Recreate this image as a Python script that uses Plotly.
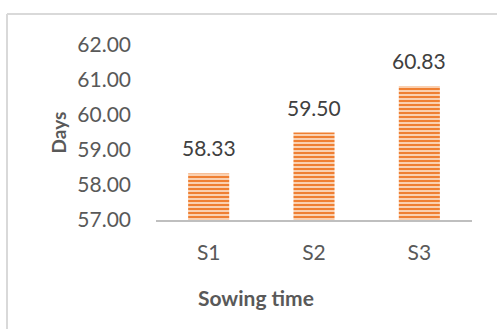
import plotly.graph_objects as go

# Days to flowering by sowing time
categories = ["S1", "S2", "S3"]
days = [58.33, 59.50, 60.83]
y_ticks = [57, 58, 59, 60, 61, 62]

W, H = 497, 329
L, R, T, B = 156, 25, 45, 109
plot_w = W - L - R
plot_h = H - T - B
FONT = "Lato, Open Sans, sans-serif"

fig = go.Figure(
    go.Bar(
        x=categories,
        y=days,
        width=0.39,
        marker=dict(
            color="#EF7F32",
            line=dict(width=0),
            pattern=dict(shape="-", size=4, solidity=0.5,
                         fgcolor="#FAD0B0", bgcolor="#EF7F32", fillmode="replace"),
        ),
        hoverinfo="skip",
    )
)

# Value labels above each bar
for cat, v in zip(categories, days):
    fig.add_annotation(
        x=cat, y=v, text=f"{v:.2f}", showarrow=False,
        yanchor="bottom", yshift=11,
        font=dict(family=FONT, size=21, color="#404040"),
    )

# X axis title, sitting left of the plot centre
fig.add_annotation(
    xref="paper", yref="paper", x=(256 - L) / plot_w, y=(220 - 297) / plot_h,
    text="<b>Sowing time</b>", showarrow=False, xanchor="center", yanchor="middle",
    font=dict(family=FONT, size=21, color="#595959"),
)

fig.update_layout(
    width=W, height=H,
    margin=dict(l=L, r=R, t=T, b=B),
    paper_bgcolor="white",
    plot_bgcolor="white",
    showlegend=False,
    font=dict(family=FONT, color="#595959"),
)

fig.update_xaxes(
    showline=True, linecolor="#BFBFBF", linewidth=2,
    ticks="", showgrid=False,
    ticklabelstandoff=13,
    tickfont=dict(size=21, color="#595959"),
)
fig.update_yaxes(
    range=[57, 62],
    tickvals=y_ticks,
    ticktext=[f"{v:.2f}" for v in y_ticks],
    showgrid=False, zeroline=False, showline=False, ticks="",
    ticklabelstandoff=24,
    tickfont=dict(size=21, color="#595959"),
    title=dict(text="<b>Days</b>", font=dict(size=19, color="#595959"), standoff=5),
)

# Chart frame: top and left edges
x_left = (7 - L) / plot_w
y_top = (H - B - 14) / plot_h
y_bottom = (H - B - H) / plot_h
fig.add_shape(type="line", xref="paper", yref="paper",
              x0=x_left, x1=(W - L) / plot_w, y0=y_top, y1=y_top,
              line=dict(color="#D9D9D9", width=2))
fig.add_shape(type="line", xref="paper", yref="paper",
              x0=x_left, x1=x_left, y0=y_bottom, y1=y_top,
              line=dict(color="#D9D9D9", width=2))

fig.write_html("out.html")
